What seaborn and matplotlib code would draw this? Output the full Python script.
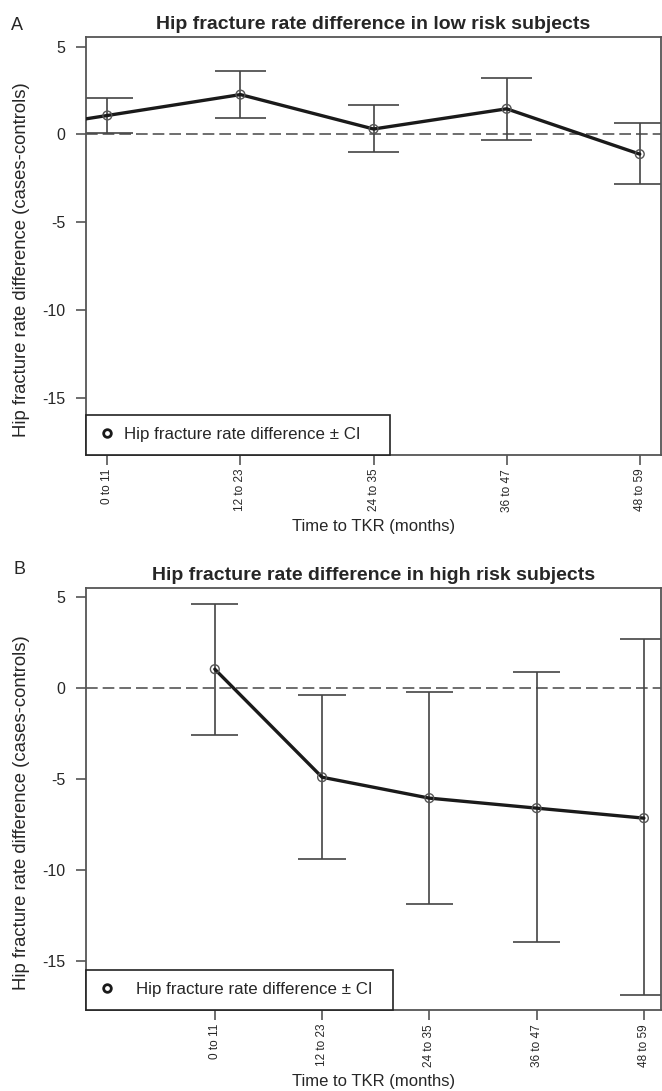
import matplotlib
matplotlib.use("Agg")
import matplotlib.pyplot as plt
from matplotlib.lines import Line2D
import numpy as np
import pandas as pd
import seaborn as sns

periods = ["0 to 11", "12 to 23", "24 to 35", "36 to 47", "48 to 59"]

low_rate = [1.08, 2.27, 0.31, 1.46, -1.12]
low_lower = [0.06, 0.96, -1.02, -0.33, -2.83]
low_upper = [2.10, 3.60, 1.67, 3.23, 0.67]

high_rate = [1.04, -4.90, -6.05, -6.60, -7.15]
high_lower = [-2.58, -9.40, -11.85, -13.96, -16.90]
high_upper = [4.63, -0.40, -0.24, 0.86, 2.69]

sns.set_theme(style="white")
plt.rcParams['font.family'] = ['Liberation Sans', 'DejaVu Sans']

frame_col = "#555555"
bar_col = "#444444"

fig = plt.figure(figsize=(6.62, 10.91), dpi=100)
axA = fig.add_axes([0.130, 0.5830, 0.8686, 0.3831])
axB = fig.add_axes([0.130, 0.0742, 0.8686, 0.3868])


def draw_panel(ax, rate, lower, upper, title, xlim, ylim, cap, extend_left, textpad, legw):
    pos = np.arange(1, len(periods) + 1)
    df = pd.DataFrame({"pos": pos, "rate": rate, "lower": lower, "upper": upper})

    ax.axhline(0, color="#555555", lw=1.2, ls=(0, (7, 3)), zorder=1)

    # confidence intervals
    ax.vlines(df["pos"], df["lower"], df["upper"], color=bar_col, lw=1.2, zorder=2)
    ax.hlines(df["lower"], df["pos"] - cap, df["pos"] + cap, color=bar_col, lw=1.2, zorder=2)
    ax.hlines(df["upper"], df["pos"] - cap, df["pos"] + cap, color=bar_col, lw=1.2, zorder=2)

    if extend_left:
        # line continues past the first point to the frame (clipped)
        slope = df["rate"][1] - df["rate"][0]
        ax.plot([0, 1], [df["rate"][0] - slope, df["rate"][0]], color="#1a1a1a", lw=2.4, zorder=3)

    sns.lineplot(data=df, x="pos", y="rate", ax=ax, color="#1a1a1a", lw=2.4,
                 zorder=3, legend=False)
    ax.scatter(df["pos"], df["rate"], s=40, facecolor="none", edgecolor="#555555",
               lw=1.0, zorder=4)

    ax.set_xlim(*xlim)
    ax.set_ylim(*ylim)
    ax.set_xticks(pos)
    ax.set_xticklabels(periods, rotation=90, fontsize=8.5)
    ax.set_yticks([5, 0, -5, -10, -15])
    ax.set_yticklabels(["5", "0", "-5", "-10", "-15"], fontsize=11.5)
    ax.tick_params(axis="both", direction="out", length=7, width=1.2, color=frame_col,
                   left=True, bottom=True)
    ax.tick_params(axis="y", pad=8)
    ax.tick_params(axis="x", pad=3)
    for sp in ax.spines.values():
        sp.set_color(frame_col)
        sp.set_linewidth(1.3)

    ax.set_xlabel("Time to TKR (months)", fontsize=12, labelpad=5)
    ax.set_ylabel("Hip fracture rate difference (cases-controls)", fontsize=13.3)
    ax.yaxis.set_label_coords(-0.098, 0.467)
    ax.set_title(title, fontsize=14, fontweight="bold", pad=6)

    handle = Line2D([], [], ls="none", marker="o", markersize=5.5, markerfacecolor="none",
                    markeredgecolor="#1a1a1a", markeredgewidth=2.0)
    leg = ax.legend([handle], ["Hip fracture rate difference \u00b1 CI"], loc="lower left",
                    bbox_to_anchor=(0, 0, legw, 0.05), mode="expand", borderaxespad=0,
                    fontsize=12.2, fancybox=False, frameon=True, handlelength=1.0,
                    handletextpad=textpad, borderpad=0.75, framealpha=1)
    leg.get_frame().set_edgecolor("#222222")
    leg.get_frame().set_linewidth(1.2)
    leg.get_frame().set_boxstyle("square", pad=0)


draw_panel(axA, low_rate, low_lower, low_upper,
           "Hip fracture rate difference in low risk subjects",
           (0.84, 5.16), (-18.25, 5.55), 0.19, True, 0.5, 0.529)
draw_panel(axB, high_rate, high_lower, high_upper,
           "Hip fracture rate difference in high risk subjects",
           (-0.2, 5.16), (-17.7, 5.5), 0.22, False, 1.2, 0.534)

fig.text(0.017, 0.977, "A", fontsize=13, va="center", ha="left")
fig.text(0.020, 0.478, "B", fontsize=13, va="center", ha="left")

plt.savefig("out.png", dpi=100)
